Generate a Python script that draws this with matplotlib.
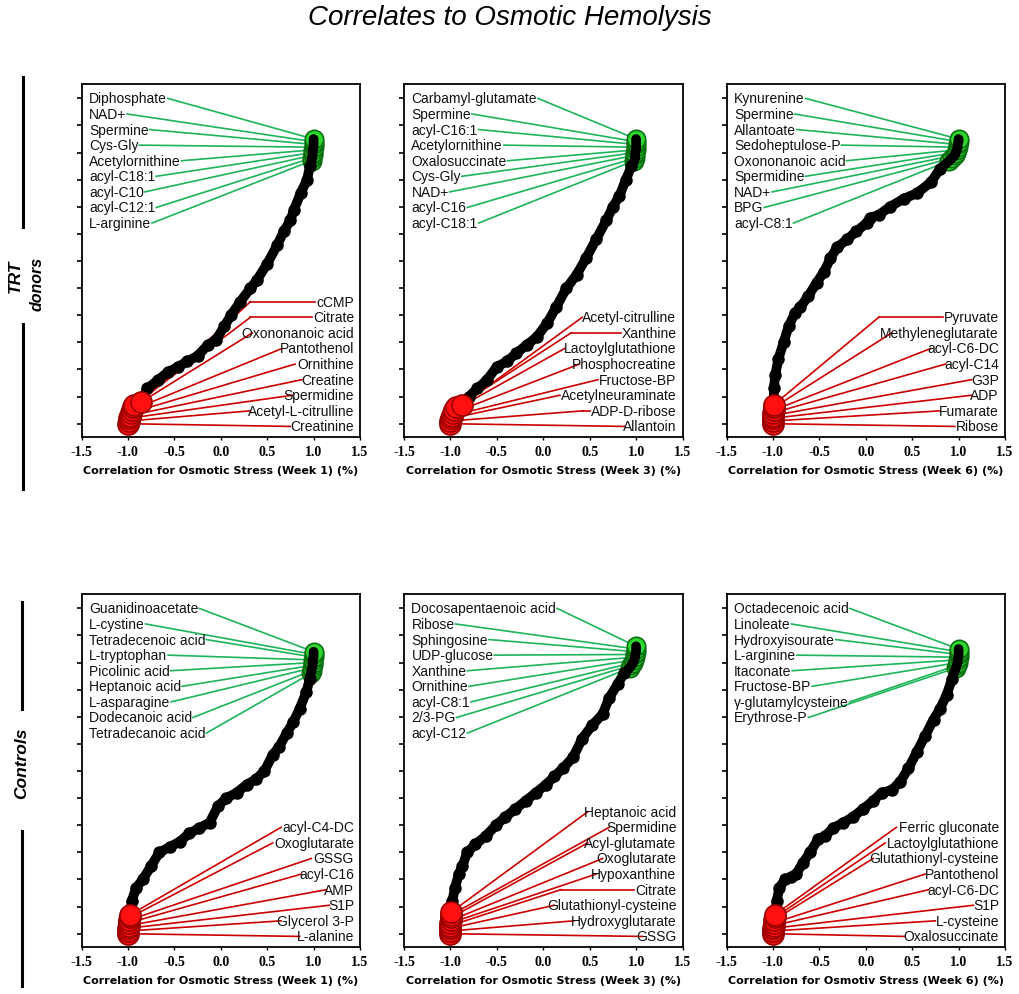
import matplotlib
matplotlib.use("Agg")
import matplotlib.pyplot as plt
from matplotlib.lines import Line2D

plt.rcParams['font.family'] = ['Liberation Sans', 'DejaVu Sans']

X_TICKS = [-1.5, -1.0, -0.5, 0.0, 0.5, 1.0, 1.5]
Y_TICKS = list(range(0, 121, 10))

# ---- TRT donors, week 1 ----
trt1_rank = [13, 16, 19, 21, 23, 25, 29, 31, 36, 40, 45, 50, 53, 59, 66, 71, 75, 79, 85, 90, 95]
trt1_corr = [-0.79, -0.68, -0.57, -0.46, -0.36, -0.25, -0.14, -0.05, 0.04, 0.11, 0.21,
             0.32, 0.39, 0.50, 0.61, 0.68, 0.75, 0.79, 0.86, 0.93, 0.96]
trt1_low = [-1.0, -0.99, -0.99, -0.98, -0.97, -0.96, -0.95, -0.93, -0.86]
trt1_high = [1.0, 1.0, 1.0, 1.0, 0.99, 0.99, 0.99, 0.98, 0.98]
trt1_top = 105
trt1_up = ["Diphosphate", "NAD+", "Spermine", "Cys-Gly", "Acetylornithine",
           "acyl-C18:1", "acyl-C10", "acyl-C12:1", "L-arginine"]
trt1_down = ["cCMP", "Citrate", "Oxononanoic acid", "Pantothenol", "Ornithine",
             "Creatine", "Spermidine", "Acetyl-L-citrulline", "Creatinine"]
trt1_bend = [0.32, 0.32, 0.34, 0.66, 0.80, 0.875, 0.77, 0.32, 0.75]

# ---- TRT donors, week 3 ----
trt3_rank = [10, 13, 16, 21, 23, 26, 29, 32, 37, 43, 50, 55, 61, 68, 75, 80, 84, 90, 95]
trt3_corr = [-0.80, -0.71, -0.61, -0.50, -0.39, -0.29, -0.18, -0.07, 0.04, 0.14, 0.25,
             0.36, 0.46, 0.57, 0.68, 0.75, 0.82, 0.89, 0.95]
trt3_low = [-1.0, -1.0, -0.99, -0.98, -0.97, -0.96, -0.94, -0.87]
trt3_high = [1.0, 1.0, 1.0, 1.0, 1.0, 0.99, 0.99, 0.99, 0.98]
trt3_top = 105
trt3_up = ["Carbamyl-glutamate", "Spermine", "acyl-C16:1", "Acetylornithine", "Oxalosuccinate",
           "Cys-Gly", "NAD+", "acyl-C16", "acyl-C18:1"]
trt3_down = ["Acetyl-citrulline", "Xanthine", "Lactoylglutathione", "Phosphocreatine",
             "Fructose-BP", "Acetylneuraminate", "ADP-D-ribose", "Allantoin"]
trt3_bend = [0.42, 0.30, 0.23, 0.39, 0.59, 0.18, 0.43, 0.875]

# ---- TRT donors, week 6 ----
trt6_rank = [13, 18, 24, 30, 36, 41, 43, 47, 52, 56, 61, 65, 68, 71, 74, 76, 77, 80, 83, 85, 89, 94]
trt6_corr = [-0.99, -0.975, -0.94, -0.885, -0.83, -0.76, -0.705, -0.62, -0.53, -0.45, -0.38,
             -0.31, -0.20, -0.10, 0.01, 0.05, 0.14, 0.26, 0.41, 0.55, 0.70, 0.80]
trt6_low = [-1.0, -1.0, -1.0, -1.0, -1.0, -0.99, -0.99, -0.99]
trt6_high = [1.0, 1.0, 0.99, 0.99, 0.98, 0.97, 0.96, 0.93, 0.90]
trt6_top = 105
trt6_up = ["Kynurenine", "Spermine", "Allantoate", "Sedoheptulose-P", "Oxononanoic acid",
           "Spermidine", "NAD+", "BPG", "acyl-C8:1"]
trt6_down = ["Pyruvate", "Methyleneglutarate", "acyl-C6-DC", "acyl-C14", "G3P", "ADP",
             "Fumarate", "Ribose"]
trt6_bend = [0.14, 0.28, 0.70, 0.86, 1.14, 1.14, 0.80, 0.96]

# ---- Controls, week 1 ----
ctl1_rank = [12, 17, 20, 25, 30, 32, 34, 37, 39, 41, 47, 50, 52, 55, 57, 60, 66, 69, 74, 78, 83, 89, 94]
ctl1_corr = [-0.96, -0.91, -0.84, -0.75, -0.66, -0.55, -0.44, -0.34, -0.23, -0.12, -0.03,
             0.06, 0.17, 0.28, 0.38, 0.47, 0.56, 0.63, 0.71, 0.78, 0.85, 0.92, 0.96]
ctl1_low = [-1.0, -1.0, -1.0, -0.99, -0.99, -0.99, -0.98, -0.975]
ctl1_high = [1.0, 1.0, 1.0, 0.99, 0.99, 0.99, 0.98, 0.98, 0.97]
ctl1_top = 104
ctl1_up = ["Guanidinoacetate", "L-cystine", "Tetradecenoic acid", "L-tryptophan", "Picolinic acid",
           "Heptanoic acid", "L-asparagine", "Dodecanoic acid", "Tetradecanoic acid"]
ctl1_down = ["acyl-C4-DC", "Oxoglutarate", "GSSG", "acyl-C16", "AMP", "S1P",
             "Glycerol 3-P", "L-alanine"]
ctl1_bend = [0.65, 0.56, 0.975, 0.87, 1.14, 1.17, 0.65, 0.85]

# ---- Controls, week 3 ----
ctl3_rank = [12, 17, 22, 25, 30, 33, 36, 40, 43, 46, 49, 52, 55, 58, 61, 65, 72, 77, 81, 87, 92, 96]
ctl3_corr = [-0.98, -0.95, -0.91, -0.87, -0.82, -0.73, -0.62, -0.51, -0.41, -0.30, -0.19,
             -0.08, 0.03, 0.12, 0.21, 0.32, 0.42, 0.53, 0.64, 0.71, 0.80, 0.87]
ctl3_low = [-1.0, -1.0, -1.0, -1.0, -1.0, -0.99, -0.99, -0.99, -0.99]
ctl3_high = [1.0, 1.0, 1.0, 0.99, 0.99, 0.98, 0.97, 0.95, 0.93]
ctl3_top = 106
ctl3_up = ["Docosapentaenoic acid", "Ribose", "Sphingosine", "UDP-glucose", "Xanthine",
           "Ornithine", "acyl-C8:1", "2/3-PG", "acyl-C12"]
ctl3_down = ["Heptanoic acid", "Spermidine", "Acyl-glutamate", "Oxoglutarate", "Hypoxanthine",
             "Citrate", "Glutathionyl-cysteine", "Hydroxyglutarate", "GSSG"]
ctl3_bend = [0.48, 0.71, 0.48, 0.64, 0.57, 0.19, 0.12, 0.33, 1.07]

# ---- Controls, week 6 ----
ctl6_rank = [12, 17, 20, 21, 22, 26, 30, 35, 36, 39, 41, 43, 46, 49, 52, 53, 56, 61, 67, 73,
             79, 83, 88, 94]
ctl6_corr = [-0.96, -0.93, -0.87, -0.80, -0.75, -0.68, -0.60, -0.51, -0.44, -0.35, -0.24,
             -0.14, -0.03, 0.08, 0.17, 0.28, 0.37, 0.46, 0.55, 0.64, 0.73, 0.80, 0.87, 0.93]
ctl6_low = [-1.0, -1.0, -1.0, -0.99, -0.99, -0.99, -0.98, -0.98]
ctl6_high = [1.0, 1.0, 1.0, 1.0, 0.99, 0.99, 0.98, 0.97]
ctl6_top = 105
ctl6_up = ["Octadecenoic acid", "Linoleate", "Hydroxyisourate", "L-arginine", "Itaconate",
           "Fructose-BP", "\u03b3-glutamylcysteine", "Erythrose-P"]
ctl6_down = ["Ferric gluconate", "Lactoylglutathione", "Glutathionyl-cysteine", "Pantothenol",
             "acyl-C6-DC", "S1P", "L-cysteine", "Oxalosuccinate"]
ctl6_bend = [0.33, 0.21, 0.08, 0.64, 0.68, 1.16, 0.75, 0.42]

XLABELS = ["Correlation for Osmotic Stress (Week 1) (%)",
           "Correlation for Osmotic Stress (Week 3) (%)",
           "Correlation for Osmotic Stress (Week 6) (%)",
           "Correlation for Osmotic Stress (Week 1) (%)",
           "Correlation for Osmotic Stress (Week 3) (%)",
           "Correlation for Osmotiv Stress (Week 6) (%)"]

panels = [
    (trt1_rank, trt1_corr, trt1_low, trt1_high, trt1_top, trt1_up, trt1_down, trt1_bend),
    (trt3_rank, trt3_corr, trt3_low, trt3_high, trt3_top, trt3_up, trt3_down, trt3_bend),
    (trt6_rank, trt6_corr, trt6_low, trt6_high, trt6_top, trt6_up, trt6_down, trt6_bend),
    (ctl1_rank, ctl1_corr, ctl1_low, ctl1_high, ctl1_top, ctl1_up, ctl1_down, ctl1_bend),
    (ctl3_rank, ctl3_corr, ctl3_low, ctl3_high, ctl3_top, ctl3_up, ctl3_down, ctl3_bend),
    (ctl6_rank, ctl6_corr, ctl6_low, ctl6_high, ctl6_top, ctl6_up, ctl6_down, ctl6_bend),
]

GREEN = '#2ed62e'
GREEN_EDGE = '#0c6e12'
GREEN_LINE = '#1db45a'
RED = '#ff1010'
RED_EDGE = '#9a0000'
RED_LINE = '#cc0000'
STEP = 5.75          # label spacing in rank units
LAB_FS = 10

W, H = 1019, 995
fig = plt.figure(figsize=(W / 100, H / 100), dpi=100)

col_left = [81.5, 404, 726.5]
row_top = [85, 595]
AX_W, AX_H = 278.5, 353

built = []
for k, (rank, corr, low, high, top, up, down, bend) in enumerate(panels):
    r, c = divmod(k, 3)
    ax = fig.add_axes([col_left[c] / W, 1 - (row_top[r] + AX_H) / H, AX_W / W, AX_H / H])

    low_rank = list(range(len(low)))
    high_rank = [top - i for i in range(len(high))]

    # black S-curve (all metabolites, sorted)
    ax.plot(low + corr + high[::-1], low_rank + rank + high_rank[::-1], color='black', lw=7,
            solid_capstyle='round', solid_joinstyle='round', zorder=3)
    ax.plot(corr, rank, 'o', ms=8, color='black', zorder=3)
    ax.scatter(high[::-1], high_rank[::-1], s=175, color=GREEN, edgecolors=GREEN_EDGE,
               linewidths=1.2, zorder=2)
    ax.scatter(low, low_rank, s=230, color=RED, edgecolors=RED_EDGE, linewidths=1.2, zorder=4)

    t_up = [ax.text(-1.42, 120 - STEP * i, s, ha='left', va='center', fontsize=LAB_FS,
                    color='#111111', zorder=6) for i, s in enumerate(up)]
    n = len(down)
    t_down = [ax.text(1.435, -1 + STEP * (n - 1 - i), s, ha='right', va='center',
                      fontsize=LAB_FS, color='#111111', zorder=6) for i, s in enumerate(down)]

    ax.set_xlim(-1.5, 1.5)
    ax.set_ylim(-4.9, 125.3)
    ax.set_xticks(X_TICKS)
    ax.set_xticklabels([f"{v:.1f}" for v in X_TICKS], fontfamily='Liberation Serif',
                       fontweight='bold', fontsize=10)
    ax.set_yticks(Y_TICKS)
    ax.set_yticklabels([])
    ax.tick_params(axis='y', direction='out', length=3.8, width=1.2)
    ax.tick_params(axis='x', direction='out', length=2.5, width=1.0, pad=3)
    for sp in ax.spines.values():
        sp.set_linewidth(1.3)
    ax.set_xlabel(XLABELS[k], fontfamily='DejaVu Sans', fontweight='bold', fontsize=8,
                  labelpad=5)
    built.append((ax, low, high, low_rank, high_rank, t_up, t_down, bend))

# leader lines need the rendered text extents
renderer = fig.canvas.get_renderer()
for ax, low, high, low_rank, high_rank, t_up, t_down, bend in built:
    inv = ax.transData.inverted()
    for i, t in enumerate(t_up):
        bb = t.get_window_extent(renderer=renderer)
        x0, _ = inv.transform((bb.x1, bb.y0))
        y0 = t.get_position()[1]
        ax.plot([x0 + 0.01, high[i]], [y0, high_rank[i]], color=GREEN_LINE, lw=1.2, zorder=1)
    n = len(t_down)
    for i, t in enumerate(t_down):
        j = n - 1 - i
        bb = t.get_window_extent(renderer=renderer)
        xl, _ = inv.transform((bb.x0, bb.y0))
        y0 = t.get_position()[1]
        ax.plot([low[j], bend[i]], [low_rank[j], y0], color=RED_LINE, lw=1.2, zorder=1)
        if bend[i] < xl - 0.03:
            ax.plot([bend[i], xl - 0.01], [y0, y0], color=RED_LINE, lw=1.2, zorder=1)

fig.text(0.5, 1 - 18 / H, "Correlates to Osmotic Hemolysis", ha='center', va='center',
         fontsize=20, style='italic')

# row labels with bars
fig.text(15 / W, 1 - 276 / H, "TRT", rotation=90, ha='center', va='center', fontsize=12.5,
         fontweight='bold', style='italic')
fig.text(37 / W, 1 - 284 / H, "donors", rotation=90, ha='center', va='center', fontsize=11.5,
         fontweight='bold', style='italic')
fig.text(22 / W, 1 - 763 / H, "Controls", rotation=90, ha='center', va='center', fontsize=12.5,
         fontweight='bold', style='italic')
for xp, ya, yb in [(23, 78, 228), (23, 325, 490), (22, 603, 710), (22, 832, 987)]:
    fig.add_artist(Line2D([xp / W, xp / W], [1 - ya / H, 1 - yb / H], color='black', lw=2.2))

fig.savefig("out.png", dpi=100)
